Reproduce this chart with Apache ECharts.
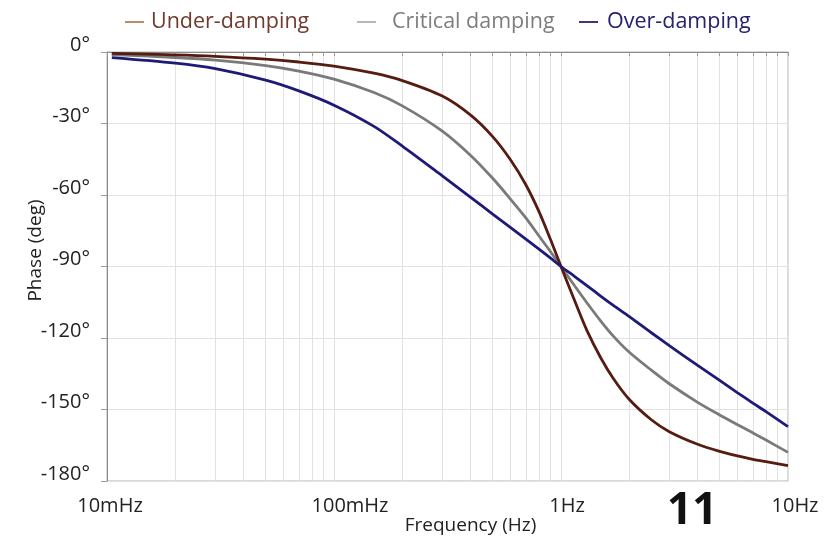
<!DOCTYPE html>
<html>
<head>
<meta charset="utf-8">
<script src="https://cdn.jsdelivr.net/npm/echarts@6/dist/echarts.min.js"></script>
<style>html,body{margin:0;padding:0;background:#fff}#c{width:838px;height:539px}</style>
</head>
<body>
<div id="c"></div>
<script>
// Frequencies (Hz)
const freqs = [0.0105, 0.02, 0.03, 0.05, 0.07, 0.1, 0.15, 0.2, 0.3, 0.4, 0.5, 0.6, 0.7, 0.8, 0.9, 1, 1.15, 1.3, 1.5, 1.7, 2, 2.5, 3, 4, 5, 6, 7, 8, 10];
// Phase (deg)
const underDamping = [-0.6, -1.2, -1.8, -3.0, -4.2, -5.9, -8.9, -12.0, -18.5, -26.5, -35.5, -45.3, -55.7, -67, -78.8, -90, -104.5, -116.8, -128.5, -137, -145.8, -154.3, -159.3, -164.6, -167.6, -169.5, -170.9, -171.9, -173.6];
const criticalDamping = [-1.1, -2.3, -3.4, -5.7, -8.0, -11.4, -17.0, -22.6, -33.2, -43.4, -53.0, -61.8, -69.6, -77.2, -83.8, -90, -98.2, -105.2, -113, -119.2, -126, -133.5, -139.2, -147, -152.3, -156.4, -159.8, -162.8, -168];
const overDamping = [-2.4, -4.7, -7.0, -11.8, -16.3, -22.3, -31.2, -39.5, -52, -61, -68, -73.7, -78.5, -82.7, -86.5, -90, -94.2, -98, -102.5, -106.3, -111, -117.8, -123.2, -131.5, -137.8, -143, -147.3, -150.9, -157.2];
// Axis ticks
const xTickValues = [0.01, 0.02, 0.03, 0.04, 0.05, 0.06, 0.07, 0.08, 0.09, 0.1, 0.2, 0.3, 0.4, 0.5, 0.6, 0.7, 0.8, 0.9, 1, 2, 3, 4, 5, 6, 7, 8, 9, 10];
const xLabelValues = [0.01, 0.1, 1, 10];
const xLabelTexts = ['10mHz', '100mHz', '1Hz', '10Hz'];
const seriesNames = ['Under-damping', 'Critical damping', 'Over-damping'];

const pairs = arr => freqs.map((f, i) => [f, arr[i]]);
const labelShift = ['s3', 's16', 's6', 's7'];
const FONT = 'Open Sans';

const chart = echarts.init(document.getElementById('c'), null, {renderer: 'canvas'});
const legendBase = {
  top: 11, icon: 'rect', itemWidth: 19, itemHeight: 2, selectedMode: false, padding: 0
};
const lts = (color, pad) => ({fontSize: 21.5, fontFamily: FONT, color: color, padding: [0, 0, 0, pad]});
const rs = pad => ({padding: [0, 0, 0, pad], fontSize: 20, fontFamily: FONT, color: '#222'});
chart.setOption({
  animation: false,
  backgroundColor: '#fff',
  grid: {left: 107, right: 50, top: 52, bottom: 58, show: true, borderColor: '#b0b0b0', borderWidth: 1, outerBoundsMode: 'none', containLabel: false},
  legend: [
    Object.assign({}, legendBase, {left: 125, data: [{name: seriesNames[0], itemStyle: {color: '#bb8d66'}, textStyle: lts('#6f3a2e', 2)}]}),
    Object.assign({}, legendBase, {left: 357, data: [{name: seriesNames[1], itemStyle: {color: '#b8b8b8'}, textStyle: lts('#7d7d7d', 11)}]}),
    Object.assign({}, legendBase, {left: 579, data: [{name: seriesNames[2], itemStyle: {color: '#3b3880'}, textStyle: lts('#26206e', 4)}]})
  ],
  xAxis: {
    type: 'log', logBase: 10, min: 0.01, max: 10,
    name: 'Frequency (Hz)', nameLocation: 'middle', nameGap: 35, nameMoveOverlap: false,
    nameTextStyle: {fontSize: 19, fontFamily: FONT, color: '#222', padding: [0, 0, 0, 46]},
    axisLine: {show: true, lineStyle: {color: '#8a8a8a', width: 1}},
    axisTick: {show: true, inside: false, length: 4, customValues: xTickValues, lineStyle: {color: '#9a9a9a'}},
    axisLabel: {
      customValues: xLabelValues, margin: 15, fontSize: 20, fontFamily: FONT, color: '#222',
      formatter: v => {
        const i = xLabelValues.findIndex(x => Math.abs(x - v) / x < 1e-6);
        return i < 0 ? '' : '{' + labelShift[i] + '|' + xLabelTexts[i] + '}';
      },
      rich: {s3: rs(6), s16: rs(32), s6: rs(12), s7: rs(14)}
    },
    splitLine: {show: true, lineStyle: {color: '#e2e2e2', width: 1}},
    minorTick: {show: false}, minorSplitLine: {show: false}
  },
  yAxis: {
    type: 'value', min: -180, max: 0, interval: 30,
    name: 'Phase (deg)', nameLocation: 'middle', nameGap: 62, nameRotate: 90, nameMoveOverlap: false,
    nameTextStyle: {fontSize: 19, fontFamily: FONT, color: '#222', padding: [0, 0, 0, 32]},
    axisLine: {show: true, lineStyle: {color: '#8a8a8a', width: 1}},
    axisTick: {show: true, inside: false, length: 6, lineStyle: {color: '#9a9a9a'}},
    axisLabel: {formatter: v => v + '°', margin: 17, fontSize: 20, fontFamily: FONT, color: '#222', verticalAlign: 'bottom', lineHeight: 14},
    splitLine: {show: true, lineStyle: {color: '#e2e2e2', width: 1}}
  },
  graphic: [{
    type: 'text', left: 667, top: 489,
    style: {text: '11', font: 'bold 44px "Open Sans"', fill: '#111'}
  }],
  series: [
    {name: seriesNames[0], type: 'line', data: pairs(underDamping), smooth: 0.3, showSymbol: false, lineStyle: {color: '#561c12', width: 2.8}, itemStyle: {color: '#561c12'}, z: 3},
    {name: seriesNames[1], type: 'line', data: pairs(criticalDamping), smooth: 0.3, showSymbol: false, lineStyle: {color: '#7a7a7a', width: 2.8}, itemStyle: {color: '#7a7a7a'}, z: 2},
    {name: seriesNames[2], type: 'line', data: pairs(overDamping), smooth: 0.3, showSymbol: false, lineStyle: {color: '#1e1b78', width: 2.8}, itemStyle: {color: '#1e1b78'}, z: 4}
  ]
});
</script>
</body>
</html>
